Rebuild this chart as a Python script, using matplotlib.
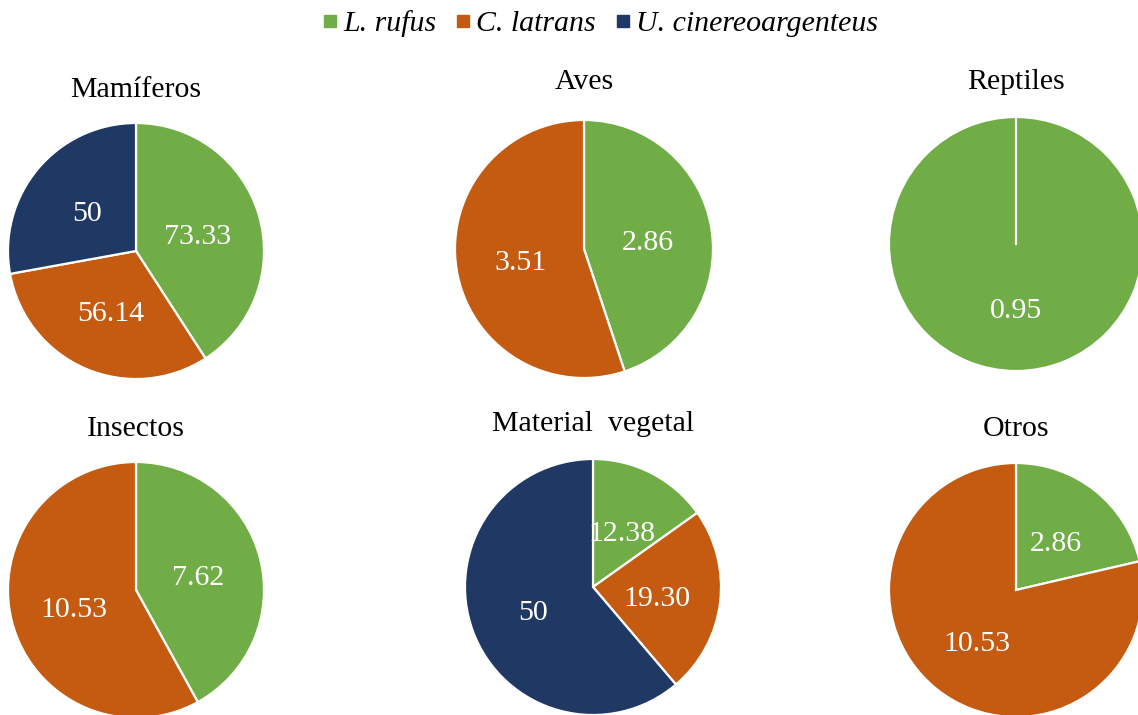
import matplotlib
matplotlib.use("Agg")
import matplotlib.pyplot as plt
from matplotlib.lines import Line2D

GREEN = "#70AD47"
ORANGE = "#C55A11"
NAVY = "#203864"

species = ["L. rufus", "C. latrans", "U. cinereoargenteus"]
species_colors = [GREEN, ORANGE, NAVY]

titles = ["Mamíferos", "Aves", "Reptiles", "Insectos", "Material  vegetal", "Otros"]
mamiferos = [73.33, 56.14, 50]
aves = [2.86, 3.51]
reptiles = [0.95]
insectos = [7.62, 10.53]
vegetal = [12.38, 19.30, 50]
otros = [2.86, 10.53]
groups = [mamiferos, aves, reptiles, insectos, vegetal, otros]

plt.rcParams["font.family"] = ["Liberation Serif", "DejaVu Serif"]

W, H = 1138, 715
fig = plt.figure(figsize=(W / 100, H / 100), dpi=100)

# pie centre (px), radius (px), title y (px)
layout = [
    (136, 251, 128, 90),
    (584, 249, 129, 82),
    (1016, 244, 127, 82),
    (136, 590, 128, 429),
    (593, 587, 128, 424),
    (1016, 590, 127, 429),
]


def fmt(v):
    return f"{v:.0f}" if float(v).is_integer() else f"{v:.2f}"


for title, vals, (cx, cy, r, ty) in zip(titles, groups, layout):
    ax = fig.add_axes([(cx - r) / W, (H - cy - r) / H, 2 * r / W, 2 * r / H])
    strs = iter([fmt(v) for v in vals])
    wedges, _, autotexts = ax.pie(
        vals, colors=species_colors[:len(vals)], startangle=90, counterclock=False,
        radius=1, autopct=lambda p, it=strs: next(it), pctdistance=0.5,
        wedgeprops=dict(edgecolor="white", linewidth=1.6),
        textprops=dict(color="white", fontsize=21.5),
    )
    for t in autotexts:
        x, y = t.get_position()
        t.set_position((x, y - 4 / r))
    if len(vals) == 1:
        ax.plot([0, 0], [0, 1], color="white", lw=1.6)
    ax.set_xlim(-1, 1)
    ax.set_ylim(-1, 1)
    ax.set_aspect("auto")
    ax.axis("off")
    fig.text(cx / W, 1 - ty / H, title, ha="center", va="center", fontsize=21.5)

handles = [Line2D([], [], marker="s", ls="", color=c, markersize=8.5) for c in species_colors]
fig.legend(handles, species, loc="center", bbox_to_anchor=(598 / W, 1 - 24 / H),
           ncol=3, frameon=False, handletextpad=0.05, columnspacing=0.5,
           handlelength=0.8, prop=dict(style="italic", size=21.5))

fig.savefig("out.png", dpi=100)
